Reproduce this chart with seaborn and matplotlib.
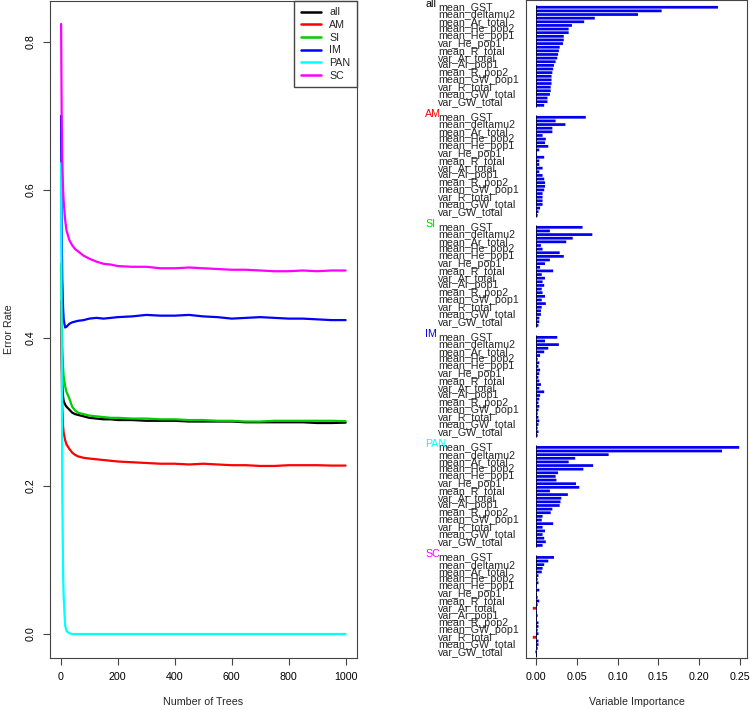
#%% Packages
import numpy as np
import pandas as pd
import matplotlib
matplotlib.use("Agg")
import matplotlib.pyplot as plt
import matplotlib.transforms as mtransforms
from matplotlib.lines import Line2D
import seaborn as sns

#%% Data - OOB error rate per class
classes = ["all", "AM", "SI", "IM", "PAN", "SC"]
class_colors = ["black", "red", "#00CD00", "blue", "cyan", "magenta"]

trees = [1, 3, 5, 8, 10, 15, 20, 30, 40, 50, 60, 80, 100, 125, 150, 175, 200,
         250, 300, 350, 400, 450, 500, 550, 600, 650, 700, 750, 800, 850, 900, 950, 1000]
err_all = [0.45, 0.38, 0.34, 0.32, 0.315, 0.31, 0.307, 0.303, 0.299, 0.297, 0.296, 0.294, 0.292,
           0.291, 0.290, 0.290, 0.289, 0.289, 0.288, 0.288, 0.288, 0.287, 0.287, 0.287, 0.287,
           0.286, 0.286, 0.286, 0.286, 0.286, 0.285, 0.285, 0.2855]
err_AM = [0.45, 0.36, 0.31, 0.28, 0.272, 0.262, 0.256, 0.25, 0.245, 0.242, 0.240, 0.238, 0.237,
          0.236, 0.235, 0.234, 0.233, 0.232, 0.231, 0.230, 0.230, 0.229, 0.230, 0.229, 0.228,
          0.228, 0.227, 0.227, 0.228, 0.228, 0.228, 0.2275, 0.2275]
err_SI = [0.50, 0.43, 0.39, 0.36, 0.348, 0.335, 0.327, 0.318, 0.307, 0.302, 0.299, 0.297, 0.295,
          0.294, 0.293, 0.292, 0.292, 0.291, 0.291, 0.290, 0.290, 0.289, 0.289, 0.288, 0.288,
          0.287, 0.287, 0.288, 0.288, 0.288, 0.288, 0.288, 0.2875]
err_IM = [0.70, 0.55, 0.48, 0.44, 0.425, 0.414, 0.415, 0.419, 0.421, 0.422, 0.423, 0.424, 0.426,
          0.427, 0.426, 0.427, 0.428, 0.429, 0.431, 0.430, 0.430, 0.431, 0.429, 0.428, 0.426,
          0.427, 0.428, 0.427, 0.426, 0.426, 0.425, 0.424, 0.424]
err_PAN = [0.636, 0.40, 0.20, 0.08, 0.05, 0.012, 0.004, 0.001, 0.0, 0.0, 0.0, 0.0, 0.0,
           0.0, 0.0, 0.0, 0.0, 0.0, 0.0, 0.0, 0.0, 0.0, 0.0, 0.0, 0.0,
           0.0, 0.0, 0.0, 0.0, 0.0, 0.0, 0.0, 0.0]
err_SC = [0.824, 0.70, 0.64, 0.60, 0.585, 0.56, 0.545, 0.532, 0.525, 0.52, 0.517, 0.511, 0.507,
          0.503, 0.50, 0.499, 0.497, 0.496, 0.496, 0.494, 0.494, 0.495, 0.494, 0.493, 0.492,
          0.492, 0.491, 0.490, 0.490, 0.491, 0.490, 0.491, 0.491]

#%% Data - variable importance per class
variables = ["mean_GST", "mean_Ar_pop1", "mean_deltamu2", "mean_Ar_pop2", "mean_Ar_total",
             "mean_He_total", "mean_He_pop2", "var_He_pop2", "mean_He_pop1", "var_He_total",
             "var_He_pop1", "mean_R_pop1", "mean_R_total", "var_Ar_pop2", "var_Ar_total",
             "var_R_pop1", "var_Ar_pop1", "var_R_pop2", "mean_R_pop2", "mean_GW_pop2",
             "mean_GW_pop1", "var_GW_pop1", "var_R_total", "var_GW_pop2", "mean_GW_total",
             "var_GST", "var_GW_total", "var_deltamu2"]
imp_all = [0.223, 0.154, 0.125, 0.072, 0.059, 0.044, 0.040, 0.040, 0.034, 0.034, 0.033, 0.029,
           0.028, 0.027, 0.026, 0.024, 0.022, 0.021, 0.020, 0.019, 0.019, 0.019, 0.018, 0.018,
           0.017, 0.014, 0.014, 0.010]
imp_AM = [0.061, 0.024, 0.036, 0.020, 0.020, 0.008, 0.012, 0.011, 0.015, 0.004, 0.001, 0.010,
          0.004, 0.004, 0.008, 0.004, 0.008, 0.010, 0.011, 0.011, 0.010, 0.008, 0.008, 0.008,
          0.008, 0.005, 0.003, 0.002]
imp_SI = [0.057, 0.017, 0.069, 0.045, 0.037, 0.006, 0.008, 0.029, 0.034, 0.017, 0.011, 0.005,
          0.021, 0.007, 0.011, 0.008, 0.010, 0.007, 0.008, 0.011, 0.007, 0.012, 0.007, 0.006,
          0.006, 0.004, 0.004, 0.003]
imp_IM = [0.026, 0.011, 0.028, 0.015, 0.010, 0.005, 0.002, 0.004, 0.003, 0.005, 0.004, 0.003,
          0.004, 0.006, 0.004, 0.010, 0.005, 0.004, 0.003, 0.004, 0.003, 0.002, 0.003, 0.004,
          0.003, 0.002, 0.003, 0.002]
imp_PAN = [0.249, 0.228, 0.089, 0.048, 0.040, 0.070, 0.058, 0.027, 0.024, 0.025, 0.049, 0.053,
           0.017, 0.039, 0.031, 0.030, 0.029, 0.020, 0.018, 0.008, 0.007, 0.021, 0.008, 0.011,
           0.008, 0.010, 0.012, 0.008]
imp_SC = [0.022, 0.015, 0.010, 0.008, 0.007, 0.003, 0.002, 0.003, 0.001, 0.004, 0.001, 0.002,
          0.004, 0.002, -0.004, 0.001, 0.002, 0.001, 0.003, 0.003, 0.002, 0.003, -0.004, 0.003,
          0.003, 0.002, -0.001, 0.001]

#%% Long tables
err = pd.DataFrame({"trees": trees, "all": err_all, "AM": err_AM, "SI": err_SI,
                    "IM": err_IM, "PAN": err_PAN, "SC": err_SC})
err_long = err.melt(id_vars="trees", var_name="class", value_name="error")

# bar slots on an integer grid (10 units per bar, 303 per class block)
ROW = 10
GROUP_STEP = 303
imp_lists = [imp_all, imp_AM, imp_SI, imp_IM, imp_PAN, imp_SC]
rows = []
for g, (cls, vals) in enumerate(zip(classes, imp_lists)):
    for i, (var, v) in enumerate(zip(variables, vals)):
        rows.append({"cls": cls, "variable": var, "importance": v, "idx": i,
                     "pos": g * GROUP_STEP + i * ROW, "sign": "neg" if v < 0 else "pos"})
imp = pd.DataFrame(rows)

#%% Style
sns.set_style("ticks")
plt.rcParams["font.family"] = ["Liberation Sans", "DejaVu Sans"]
plt.rcParams["font.size"] = 7.7
plt.rcParams["axes.edgecolor"] = "#444444"
plt.rcParams["axes.linewidth"] = 0.8
plt.rcParams["xtick.color"] = "#444444"
plt.rcParams["ytick.color"] = "#444444"
plt.rcParams["xtick.labelcolor"] = "black"
plt.rcParams["ytick.labelcolor"] = "black"

fig = plt.figure(figsize=(7.5, 7.1), dpi=100)
ax1 = fig.add_axes([50 / 750, 52 / 710, 307 / 750, 657 / 710])
ax2 = fig.add_axes([526 / 750, 52 / 710, 221 / 750, 658 / 710])

#%% Left: error rate vs number of trees
pal = dict(zip(classes, class_colors))
sns.lineplot(data=err_long, x="trees", y="error", hue="class", hue_order=classes,
             palette=pal, lw=1.6, legend=False, ax=ax1)
ax1.set_xlim(-38, 1040)
ax1.set_ylim(-0.0324, 0.855)
ax1.set_xticks(range(0, 1001, 200))
ax1.set_yticks([0, 0.2, 0.4, 0.6, 0.8])
ax1.set_yticklabels(["0.0", "0.2", "0.4", "0.6", "0.8"], rotation=90, va="center")
ax1.tick_params(direction="out", length=5, width=0.8, labelsize=7.7, pad=5)
ax1.set_xlabel("Number of Trees", fontsize=7.7, labelpad=11)
ax1.set_ylabel("Error Rate", fontsize=7.7, labelpad=9)

handles = [Line2D([], [], color=c, lw=1.8) for c in class_colors]
ax1.legend(handles, classes, loc="upper right", borderaxespad=0, frameon=True,
           fancybox=False, edgecolor="#444444", framealpha=1, handlelength=1.9,
           handletextpad=0.8, labelspacing=0.25, borderpad=0.6, fontsize=7.7)

#%% Right: variable importance
sns.barplot(data=imp, x="importance", y="pos", hue="sign", orient="h", native_scale=True,
            palette={"pos": "#0000F0", "neg": "red"}, dodge=False, width=0.75, saturation=1,
            errorbar=None, legend=False, linewidth=0, edgecolor="none", ax=ax2)
for p in ax2.patches:
    p.set_snap(False)
ax2.scatter(np.zeros(len(imp)), imp["pos"], marker="|", s=5, c="#000040", lw=0.7, zorder=3)
ax2.set_xlim(-0.0123, 0.2586)
ax2.set_ylim(179.2 * ROW, -2.0 * ROW)
ax2.set_yticks([])
ax2.set_ylabel("")
ax2.set_xticks([0, 0.05, 0.1, 0.15, 0.2, 0.25])
ax2.set_xticklabels(["0.00", "0.05", "0.10", "0.15", "0.20", "0.25"])
ax2.tick_params(direction="out", length=5, width=0.8, labelsize=7.7, pad=5)
ax2.set_xlabel("Variable Importance", fontsize=7.7, labelpad=11)

trans = mtransforms.blended_transform_factory(ax2.transAxes, ax2.transData)
for _, r in imp[imp["idx"] % 2 == 0].iterrows():
    ax2.text(-0.398, r["pos"], r["variable"], transform=trans, ha="left", va="center",
             fontsize=7.7, clip_on=False)
for g, (cls, col) in enumerate(zip(classes, class_colors)):
    ax2.text(-0.457, g * GROUP_STEP - 0.9 * ROW, cls, transform=trans, ha="left", va="center",
             fontsize=7.7, color=col, clip_on=False)

fig.savefig("out.png", dpi=100)
